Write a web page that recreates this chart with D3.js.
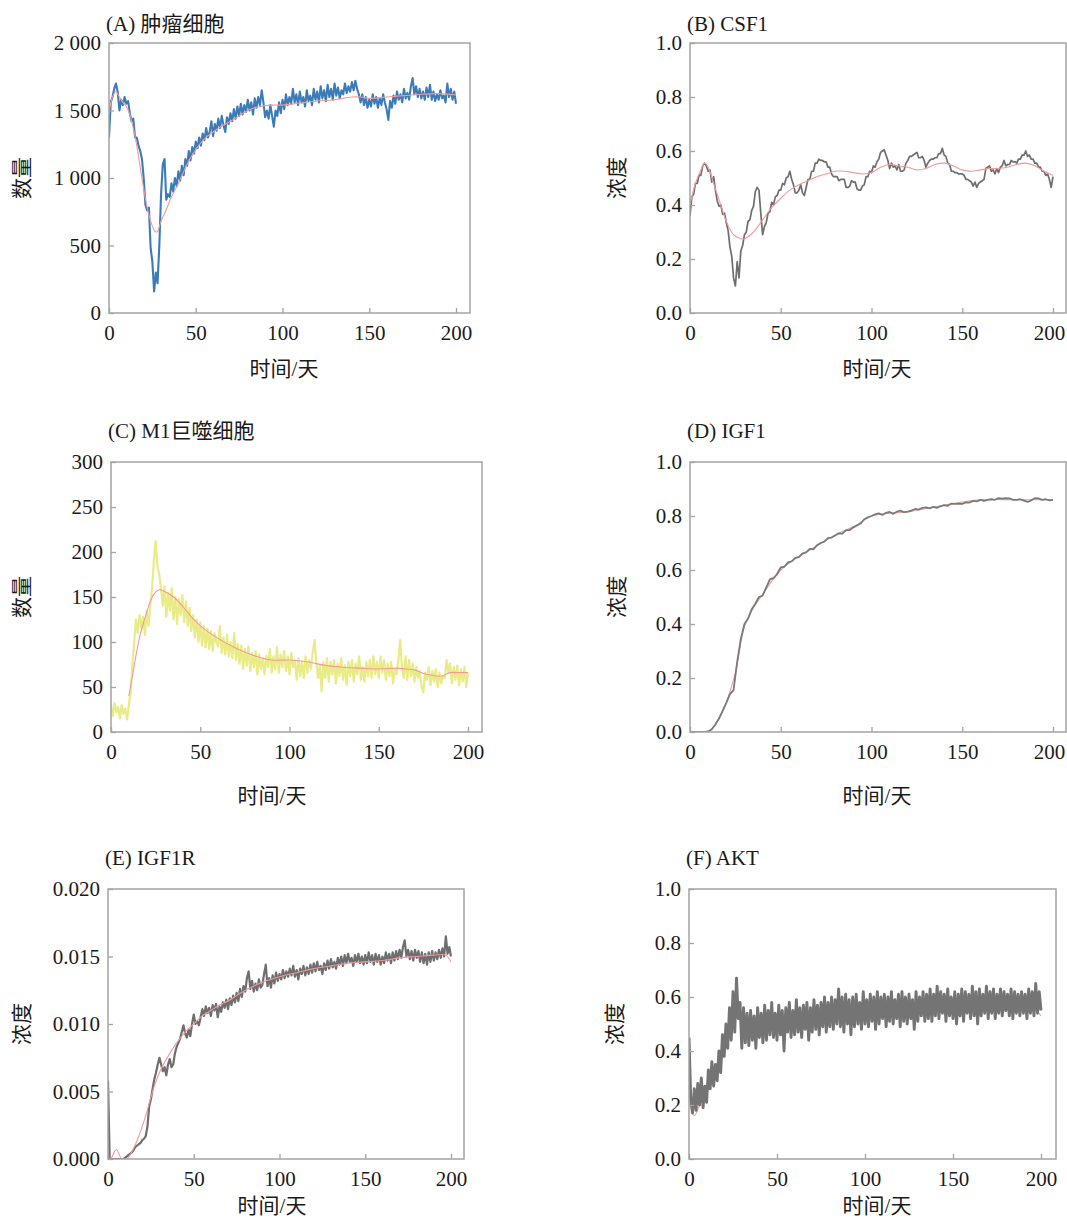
<!DOCTYPE html>
<html>
<head>
<meta charset="utf-8">
<script src="https://cdn.jsdelivr.net/npm/d3@7"></script>
<style>
  body { margin: 0; background: #fff; }
  svg text { font-family: 'Liberation Serif', 'Times New Roman', 'Noto Sans CJK SC', serif; fill: #1a1a1a; }
</style>
</head>
<body>
<svg id="chart" width="1067" height="1218"></svg>
<script>
/* global d3 */

// x axis ticks shared by all panels (days)
var xTicks = [0, 50, 100, 150, 200]

// (A) tumour cells, one value per day
var tumorCells = [
  1300, 1560, 1600, 1660, 1700, 1640, 1500, 1580, 1540, 1600,
  1550, 1570, 1480, 1420, 1440, 1300, 1300, 1240, 1200, 1140,
  1000, 800, 760, 780, 480, 380, 160, 300, 220, 500,
  880, 1100, 1140, 840, 880, 860, 960, 900, 1000, 940,
  1050, 980, 1090, 1020, 1140, 1090, 1200, 1130, 1230, 1180,
  1270, 1220, 1300, 1240, 1330, 1280, 1370, 1300, 1340, 1420,
  1310, 1400, 1350, 1440, 1370, 1460, 1390, 1340, 1450, 1400,
  1480, 1420, 1510, 1440, 1530, 1460, 1550, 1470, 1540, 1490,
  1580, 1500, 1560, 1470, 1590, 1520, 1600, 1540, 1650, 1560,
  1450, 1500, 1440, 1540, 1460, 1380, 1500, 1460, 1560, 1480,
  1580, 1510, 1620, 1540, 1600, 1550, 1660, 1560, 1620, 1540,
  1640, 1560, 1600, 1530, 1650, 1570, 1610, 1540, 1660, 1580,
  1640, 1560, 1680, 1590, 1650, 1570, 1690, 1600, 1660, 1580,
  1700, 1610, 1670, 1590, 1650, 1620, 1700, 1630, 1680, 1640,
  1710, 1650, 1720, 1660, 1620, 1560, 1620, 1540, 1600, 1520,
  1580, 1530, 1620, 1550, 1600, 1520, 1590, 1540, 1620, 1560,
  1510, 1430, 1570, 1520, 1610, 1550, 1640, 1580, 1620, 1560,
  1660, 1590, 1630, 1580, 1680, 1740, 1620, 1680, 1600, 1660,
  1590, 1640, 1580, 1670, 1600, 1690, 1580, 1640, 1570, 1620,
  1580, 1650, 1590, 1610, 1560, 1700, 1600, 1660, 1580, 1640,
  1550
]
var tumorFitDays = [0, 2, 4, 6, 8, 10, 12, 14, 16, 18, 20, 22, 24, 26, 27, 28, 30, 33, 36, 40,
  45, 50, 55, 60, 65, 70, 75, 80, 87, 95, 100, 110, 120, 130, 140, 145, 150, 160, 170, 180, 190, 200]
var tumorFitValues = [1480, 1600, 1640, 1600, 1560, 1530, 1470, 1370, 1240, 1080, 920, 780, 680, 615, 600, 605, 680, 765, 860, 960,
  1100, 1210, 1290, 1340, 1385, 1420, 1460, 1500, 1530, 1540, 1540, 1555, 1570, 1580, 1600, 1600, 1590, 1600, 1610, 1620, 1625, 1615]

// (B) CSF1
var csf1 = [
  0.36, 0.43, 0.44, 0.48, 0.48, 0.51, 0.51, 0.545, 0.555, 0.545,
  0.525, 0.53, 0.485, 0.505, 0.455, 0.415, 0.395, 0.40, 0.365, 0.37,
  0.335, 0.305, 0.245, 0.21, 0.13, 0.10, 0.19, 0.13, 0.23, 0.25,
  0.29, 0.30, 0.34, 0.345, 0.38, 0.395, 0.45, 0.465, 0.455, 0.37,
  0.29, 0.32, 0.335, 0.37, 0.375, 0.41, 0.40, 0.43, 0.435, 0.455,
  0.455, 0.48, 0.475, 0.50, 0.505, 0.525, 0.495, 0.475, 0.445, 0.445,
  0.455, 0.475, 0.445, 0.435, 0.465, 0.495, 0.495, 0.525, 0.525, 0.555,
  0.555, 0.57, 0.565, 0.565, 0.56, 0.56, 0.54, 0.54, 0.515, 0.505,
  0.505, 0.505, 0.49, 0.495, 0.495, 0.495, 0.465, 0.465, 0.47, 0.49,
  0.485, 0.485, 0.46, 0.455, 0.455, 0.47, 0.475, 0.505, 0.505, 0.525,
  0.52, 0.545, 0.54, 0.56, 0.57, 0.595, 0.60, 0.605, 0.585, 0.565,
  0.535, 0.555, 0.54, 0.545, 0.53, 0.55, 0.525, 0.525, 0.53, 0.555,
  0.565, 0.58, 0.58, 0.585, 0.59, 0.595, 0.575, 0.575, 0.58, 0.565,
  0.54, 0.555, 0.565, 0.57, 0.57, 0.575, 0.575, 0.59, 0.59, 0.61,
  0.585, 0.58, 0.555, 0.55, 0.525, 0.525, 0.52, 0.52, 0.515, 0.515,
  0.515, 0.51, 0.495, 0.495, 0.49, 0.485, 0.47, 0.485, 0.465, 0.48,
  0.485, 0.49, 0.495, 0.535, 0.54, 0.545, 0.525, 0.53, 0.515, 0.535,
  0.52, 0.54, 0.545, 0.565, 0.545, 0.55, 0.55, 0.565, 0.56, 0.56,
  0.555, 0.57, 0.57, 0.585, 0.585, 0.60, 0.58, 0.585, 0.57, 0.57,
  0.555, 0.555, 0.54, 0.54, 0.525, 0.525, 0.51, 0.515, 0.495, 0.465,
  0.505
]
var csf1FitDays = [0, 3, 6, 8, 10, 13, 16, 20, 24, 28, 30, 35, 40, 45, 50, 55, 60, 65, 70, 75,
  80, 85, 90, 95, 100, 105, 110, 115, 120, 125, 130, 135, 140, 145, 150, 155, 160, 165, 170, 175,
  180, 185, 190, 195, 200]
var csf1FitValues = [0.40, 0.48, 0.53, 0.555, 0.54, 0.48, 0.42, 0.34, 0.29, 0.275, 0.275, 0.30, 0.345, 0.39, 0.425, 0.455, 0.475, 0.49, 0.505, 0.515,
  0.525, 0.525, 0.52, 0.515, 0.52, 0.54, 0.55, 0.545, 0.54, 0.53, 0.535, 0.55, 0.555, 0.545, 0.53, 0.525, 0.53, 0.535, 0.535, 0.54,
  0.55, 0.555, 0.545, 0.525, 0.51]

// (C) M1 macrophages
var m1Cells = [
  30, 18, 32, 22, 28, 15, 30, 20, 26, 14,
  30, 45, 75, 100, 125, 110, 130, 115, 128, 108,
  135, 118, 140, 160, 190, 212, 185, 175, 160, 140,
  162, 128, 155, 135, 160, 125, 150, 120, 148, 130,
  152, 122, 145, 118, 138, 112, 130, 105, 125, 100,
  122, 96, 118, 94, 115, 92, 112, 90, 110, 100,
  95, 118, 88, 105, 86, 108, 84, 100, 82, 110,
  80, 98, 76, 96, 70, 92, 74, 95, 68, 88,
  72, 90, 64, 86, 70, 82, 64, 85, 72, 92,
  66, 84, 70, 94, 66, 86, 72, 90, 68, 84,
  64, 88, 72, 80, 58, 82, 62, 78, 60, 84,
  66, 80, 70, 88, 102, 78, 60, 74, 45, 78,
  60, 82, 56, 78, 64, 80, 54, 76, 62, 82,
  58, 74, 52, 78, 62, 80, 56, 76, 64, 84,
  58, 72, 56, 78, 62, 80, 60, 84, 64, 78,
  60, 84, 66, 80, 58, 76, 62, 78, 54, 70,
  64, 80, 102, 72, 60, 84, 58, 80, 62, 76,
  56, 72, 60, 68, 50, 44, 66, 58, 72, 52,
  68, 56, 70, 50, 66, 54, 62, 60, 80, 66,
  76, 54, 72, 58, 74, 52, 70, 56, 72, 50,
  66
]
var m1FitDays = [10, 12, 14, 16, 18, 20, 22, 24, 27, 30, 35, 40, 45, 50, 60, 70, 80, 90, 100, 110,
  120, 130, 140, 150, 160, 165, 170, 175, 180, 185, 190, 195, 200]
var m1FitValues = [40, 62, 85, 105, 120, 133, 145, 153, 158, 156, 150, 140, 128, 118, 104, 93, 85, 80, 80, 78,
  74, 72, 71, 70, 71, 70, 69, 65, 63, 62, 66, 66, 66]

// (D) IGF1, one value every two days
var igf1 = [
  0, 0, 0, 0, 0, 0.002, 0.01, 0.028, 0.05, 0.078,
  0.108, 0.14, 0.155, 0.26, 0.345, 0.40, 0.42, 0.455, 0.475, 0.50,
  0.505, 0.535, 0.565, 0.57, 0.585, 0.61, 0.612, 0.628, 0.632, 0.645,
  0.648, 0.662, 0.665, 0.678, 0.676, 0.692, 0.70, 0.705, 0.718, 0.72,
  0.728, 0.736, 0.735, 0.748, 0.748, 0.758, 0.765, 0.772, 0.788, 0.795,
  0.80, 0.806, 0.81, 0.804, 0.812, 0.815, 0.808, 0.816, 0.82, 0.814,
  0.816, 0.82, 0.826, 0.824, 0.83, 0.832, 0.828, 0.834, 0.83, 0.836,
  0.84, 0.838, 0.846, 0.845, 0.846, 0.845, 0.85, 0.85, 0.856, 0.854,
  0.86, 0.856, 0.86, 0.862, 0.86, 0.866, 0.864, 0.866, 0.865, 0.86,
  0.86, 0.862, 0.857, 0.852, 0.858, 0.866, 0.865, 0.86, 0.862, 0.858,
  0.86
]
var igf1FitDays = [0, 10, 15, 20, 25, 30, 35, 40, 50, 60, 70, 80, 90, 100, 110, 120, 140, 160, 180, 200]
var igf1FitValues = [0, 0, 0.04, 0.11, 0.22, 0.39, 0.46, 0.51, 0.60, 0.65, 0.69, 0.73, 0.76, 0.80, 0.81, 0.815, 0.84, 0.86, 0.86, 0.86]

// (E) IGF1R
var igf1r = [
  0.0058, 0, 0, 0, 0, 0, 0, 0, 0, 0,
  0.0001, 0.0002, 0.0003, 0.0004, 0.0005, 0.0007, 0.0009, 0.0010, 0.0011, 0.0012,
  0.0014, 0.0015, 0.0017, 0.0024, 0.0039, 0.0044, 0.0052, 0.0059, 0.0064, 0.0070,
  0.0075, 0.0070, 0.0065, 0.0068, 0.0062, 0.0070, 0.0074, 0.0068, 0.0070, 0.0078,
  0.0083, 0.0086, 0.0089, 0.0094, 0.0099, 0.0093, 0.0090, 0.0096, 0.0091, 0.0100,
  0.0107, 0.0100, 0.0102, 0.0099, 0.0105, 0.0111, 0.0106, 0.0113, 0.0108, 0.0112,
  0.0106, 0.0114, 0.0110, 0.0115, 0.0105, 0.0113, 0.0109, 0.0116, 0.0112, 0.0118,
  0.0111, 0.0119, 0.0114, 0.0121, 0.0116, 0.0123, 0.0117, 0.0126, 0.0120, 0.0128,
  0.0124, 0.0134, 0.0139, 0.0126, 0.0132, 0.0124, 0.0130, 0.0125, 0.0133, 0.0127,
  0.0129, 0.0137, 0.0144, 0.0128, 0.0134, 0.0127, 0.0136, 0.0130, 0.0138, 0.0132,
  0.0137, 0.0133, 0.0140, 0.0134, 0.0139, 0.0135, 0.0141, 0.0136, 0.0143, 0.0135,
  0.0140, 0.0133, 0.0141, 0.0137, 0.0143, 0.0136, 0.0142, 0.0137, 0.0144, 0.0138,
  0.0145, 0.0139, 0.0146, 0.0140, 0.0143, 0.0137, 0.0145, 0.0140, 0.0147, 0.0141,
  0.0148, 0.0142, 0.0146, 0.0141, 0.0149, 0.0144, 0.0150, 0.0143, 0.0151, 0.0145,
  0.0152, 0.0146, 0.0149, 0.0143, 0.0151, 0.0146, 0.0152, 0.0145, 0.0150, 0.0144,
  0.0151, 0.0145, 0.0153, 0.0146, 0.0151, 0.0144, 0.0152, 0.0146, 0.0151, 0.0144,
  0.0150, 0.0145, 0.0153, 0.0147, 0.0152, 0.0145, 0.0153, 0.0147, 0.0154, 0.0148,
  0.0155, 0.0149, 0.0157, 0.0162, 0.0150, 0.0155, 0.0148, 0.0154, 0.0147, 0.0155,
  0.0149, 0.0154, 0.0146, 0.0153, 0.0145, 0.0152, 0.0144, 0.0153, 0.0146, 0.0154,
  0.0147, 0.0153, 0.0148, 0.0155, 0.0149, 0.0156, 0.0150, 0.0165, 0.0152, 0.0157,
  0.0150
]
var igf1rFitDays = [0, 2, 4, 5, 6, 8, 11, 15, 18, 21, 24, 27, 30, 35, 40, 45, 50, 55, 60, 65,
  70, 75, 80, 85, 90, 95, 100, 110, 120, 130, 140, 150, 160, 170, 180, 190, 197, 200]
var igf1rFitValues = [0, 0.0001, 0.0006, 0.0007, 0.0005, 0, 0, 0.0008, 0.0017, 0.0028, 0.0041, 0.0054, 0.0064, 0.0076, 0.0086, 0.0094, 0.0100, 0.0106, 0.0110, 0.0114,
  0.0117, 0.0121, 0.0125, 0.0128, 0.0131, 0.0133, 0.0135, 0.0138, 0.0141, 0.0143, 0.0145, 0.0146, 0.0147, 0.0149, 0.0150, 0.0151, 0.0151, 0.0146]

// (F) AKT
var akt = [
  0.45, 0.22, 0.17, 0.26, 0.18, 0.28, 0.20, 0.30, 0.19, 0.27,
  0.21, 0.33, 0.26, 0.36, 0.27, 0.35, 0.29, 0.40, 0.32, 0.46,
  0.38, 0.50, 0.41, 0.56, 0.44, 0.62, 0.47, 0.67, 0.52, 0.58,
  0.41, 0.56, 0.43, 0.54, 0.42, 0.55, 0.44, 0.53, 0.41, 0.56,
  0.45, 0.54, 0.43, 0.57, 0.44, 0.55, 0.46, 0.58, 0.45, 0.54,
  0.44, 0.57, 0.46, 0.55, 0.40, 0.56, 0.47, 0.58, 0.45, 0.55,
  0.46, 0.59, 0.47, 0.56, 0.45, 0.57, 0.48, 0.58, 0.44, 0.56,
  0.47, 0.59, 0.48, 0.57, 0.46, 0.58, 0.49, 0.60, 0.47, 0.58,
  0.49, 0.60, 0.48, 0.59, 0.50, 0.63, 0.49, 0.60, 0.47, 0.61,
  0.50, 0.59, 0.46, 0.60, 0.49, 0.61, 0.50, 0.58, 0.48, 0.62,
  0.50, 0.59, 0.49, 0.61, 0.51, 0.60, 0.48, 0.62, 0.50, 0.60,
  0.52, 0.61, 0.49, 0.60, 0.51, 0.62, 0.50, 0.59, 0.52, 0.61,
  0.49, 0.62, 0.51, 0.60, 0.50, 0.61, 0.52, 0.59, 0.48, 0.62,
  0.51, 0.60, 0.53, 0.62, 0.51, 0.61, 0.52, 0.63, 0.51, 0.61,
  0.53, 0.64, 0.52, 0.62, 0.54, 0.61, 0.51, 0.63, 0.53, 0.60,
  0.52, 0.62, 0.50, 0.61, 0.53, 0.63, 0.51, 0.62, 0.54, 0.61,
  0.52, 0.64, 0.53, 0.62, 0.50, 0.63, 0.53, 0.61, 0.54, 0.64,
  0.52, 0.62, 0.54, 0.63, 0.52, 0.61, 0.54, 0.63, 0.53, 0.62,
  0.55, 0.61, 0.53, 0.63, 0.52, 0.62, 0.54, 0.61, 0.53, 0.62,
  0.54, 0.61, 0.52, 0.63, 0.54, 0.62, 0.53, 0.65, 0.54, 0.62,
  0.55
]
var aktFitDays = [0, 1, 3, 6, 10, 15, 20, 25, 28, 30, 35, 40, 60, 80, 100, 120, 140, 160, 180, 195, 200]
var aktFitValues = [0.45, 0.20, 0.16, 0.20, 0.25, 0.30, 0.40, 0.50, 0.53, 0.50, 0.49, 0.49, 0.50, 0.52, 0.54, 0.55, 0.56, 0.565, 0.57, 0.56, 0.53]

// y ticks
var ticksCount = [0, 500, 1000, 1500, 2000]
var ticksUnit = [0, 0.2, 0.4, 0.6, 0.8, 1.0]
var ticksM1 = [0, 50, 100, 150, 200, 250, 300]
var ticksIgf1r = [0, 0.005, 0.010, 0.015, 0.020]

var fmtCount = function (v) { return v >= 1000 ? d3.format(',')(v).replace(',', ' ') : String(v) }

var panels = [
  {title: '(A) 肿瘤细胞', ylab: '数量', values: tumorCells, fitDays: tumorFitDays, fitValues: tumorFitValues,
    ydom: [0, 2000], yticks: ticksCount, yfmt: fmtCount, color: '#3b7bb8', sw: 2.1, fitTop: true,
    x0: 109, x200: 456, right: 470, top: 43, bottom: 313, titleY: 31, xlabX: 284, xlabY: 376, ylabX: 22, lastDx: 0},
  {title: '(B) CSF1', ylab: '浓度', values: csf1, fitDays: csf1FitDays, fitValues: csf1FitValues,
    ydom: [0, 1], yticks: ticksUnit, yfmt: d3.format('.1f'), color: '#6e6e6e', sw: 1.7, fitTop: true,
    x0: 690, x200: 1053, right: 1066, top: 43, bottom: 313, titleY: 31, xlabX: 877, xlabY: 376, ylabX: 617, lastDx: -4},
  {title: '(C) M1巨噬细胞', ylab: '数量', values: m1Cells, fitDays: m1FitDays, fitValues: m1FitValues,
    ydom: [0, 300], yticks: ticksM1, yfmt: d3.format('d'), color: '#e9ec86', sw: 2.2, fitTop: true,
    x0: 111, x200: 468, right: 482, top: 462, bottom: 732, titleY: 438, xlabX: 272, xlabY: 803, ylabX: 22, lastDx: 0},
  {title: '(D) IGF1', ylab: '浓度', values: igf1, fitDays: igf1FitDays, fitValues: igf1FitValues,
    ydom: [0, 1], yticks: ticksUnit, yfmt: d3.format('.1f'), color: '#7a7a7a', sw: 1.8, fitTop: false,
    x0: 690, x200: 1053, right: 1066, top: 462, bottom: 732, titleY: 438, xlabX: 877, xlabY: 803, ylabX: 617, lastDx: -4},
  {title: '(E) IGF1R', ylab: '浓度', values: igf1r, fitDays: igf1rFitDays, fitValues: igf1rFitValues,
    ydom: [0, 0.02], yticks: ticksIgf1r, yfmt: d3.format('.3f'), color: '#6e6e6e', sw: 2.2, fitTop: true,
    x0: 108, x200: 451, right: 464, top: 889, bottom: 1159, titleY: 865, xlabX: 272, xlabY: 1213, ylabX: 22, lastDx: 0},
  {title: '(F) AKT', ylab: '浓度', values: akt, fitDays: aktFitDays, fitValues: aktFitValues,
    ydom: [0, 1], yticks: ticksUnit, yfmt: d3.format('.1f'), color: '#747474', sw: 2.9, fitTop: false,
    x0: 689, x200: 1041, right: 1056, top: 889, bottom: 1159, titleY: 865, xlabX: 877, xlabY: 1213, ylabX: 615, lastDx: 0}
]

var svg = d3.select('#chart')
var frameColor = '#a3a3a3'
var fitColor = '#f29a9a'
var serif = "'Liberation Serif', 'Times New Roman', 'Noto Sans CJK SC', serif"

panels.forEach(function (p, k) {
  var g = svg.append('g').attr('class', 'panel')
  var x = d3.scaleLinear().domain([0, 200]).range([p.x0, p.x200])
  var y = d3.scaleLinear().domain(p.ydom).range([p.bottom, p.top])
  var step = 200 / (p.values.length - 1)

  var clipId = 'clip' + k
  svg.append('clipPath').attr('id', clipId)
    .append('rect')
    .attr('x', p.x0).attr('y', p.top)
    .attr('width', p.right - p.x0).attr('height', p.bottom - p.top)

  var plot = g.append('g').attr('clip-path', `url(#${clipId})`)

  var noisy = d3.line()
    .x((d, i) => x(i * step))
    .y(d => y(d))

  var fit = d3.line()
    .curve(d3.curveCatmullRom.alpha(0.5))
    .x((d, i) => x(p.fitDays[i]))
    .y(d => y(d))

  function drawFit () {
    plot.append('path')
      .datum(p.fitValues)
      .attr('d', fit)
      .attr('fill', 'none')
      .attr('stroke', fitColor)
      .attr('stroke-width', 1.1)
  }

  if (!p.fitTop) drawFit()
  plot.append('path')
    .datum(p.values)
    .attr('d', noisy)
    .attr('fill', 'none')
    .attr('stroke', p.color)
    .attr('stroke-width', p.sw)
    .attr('stroke-linejoin', 'round')
  if (p.fitTop) drawFit()

  // axes, ticks pointing inward
  var xAxis = g.append('g')
    .attr('transform', `translate(0, ${p.bottom})`)
    .call(d3.axisBottom(x).tickValues(xTicks).tickSizeInner(-5).tickSizeOuter(0).tickPadding(12))
  var yAxis = g.append('g')
    .attr('transform', `translate(${p.x0}, 0)`)
    .call(d3.axisLeft(y).tickValues(p.yticks).tickFormat(p.yfmt).tickSizeInner(-5).tickSizeOuter(0).tickPadding(8))

  ;[xAxis, yAxis].forEach(function (a) {
    a.attr('font-family', null).attr('font-size', null)
    a.select('.domain').remove()
    a.selectAll('line').attr('stroke', frameColor).attr('stroke-width', 1.3)
    a.selectAll('text')
      .style('font-family', serif)
      .style('font-size', '21px')
      .attr('fill', '#1a1a1a')
  })

  // keep the last day label inside the page on the right-hand panels
  xAxis.selectAll('.tick text')
    .filter(d => d === 200)
    .attr('dx', p.lastDx)

  // frame
  g.append('rect')
    .attr('x', p.x0).attr('y', p.top)
    .attr('width', p.right - p.x0).attr('height', p.bottom - p.top)
    .attr('fill', 'none')
    .attr('stroke', frameColor)
    .attr('stroke-width', 1.5)

  // titles
  g.append('text')
    .attr('x', p.x0 - 3).attr('y', p.titleY)
    .style('font-family', serif)
    .style('font-size', '21px')
    .text(p.title)

  g.append('text')
    .attr('x', p.xlabX).attr('y', p.xlabY)
    .attr('text-anchor', 'middle')
    .style('font-family', serif)
    .style('font-size', '21px')
    .text('时间/天')

  g.append('text')
    .attr('transform', `translate(${p.ylabX}, ${(p.top + p.bottom) / 2}) rotate(-90)`)
    .attr('text-anchor', 'middle')
    .attr('dy', '0.35em')
    .style('font-family', serif)
    .style('font-size', '21px')
    .text(p.ylab)
})
</script>
</body>
</html>
